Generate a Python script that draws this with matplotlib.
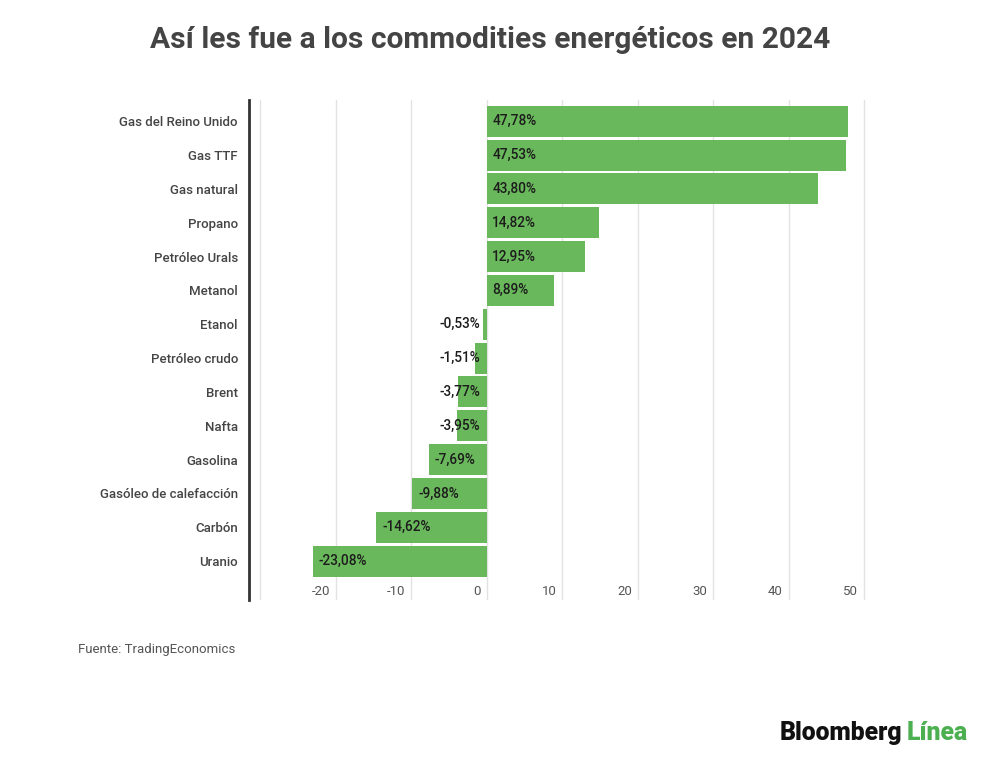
import matplotlib.pyplot as plt
from matplotlib.transforms import offset_copy, blended_transform_factory

plt.rcParams['font.family'] = ['Roboto', 'DejaVu Sans']

# data
categories = ['Gas del Reino Unido', 'Gas TTF', 'Gas natural', 'Propano',
              'Petróleo Urals', 'Metanol', 'Etanol', 'Petróleo crudo', 'Brent',
              'Nafta', 'Gasolina', 'Gasóleo de calefacción', 'Carbón', 'Uranio']
values = [47.78, 47.53, 43.80, 14.82, 12.95, 8.89, -0.53, -1.51, -3.77,
          -3.95, -7.69, -9.88, -14.62, -23.08]
grid_ticks = [-30, -20, -10, 0, 10, 20, 30, 40, 50]
label_ticks = [-20, -10, 0, 10, 20, 30, 40, 50]

bar_color = '#6ab85c'
fig = plt.figure(figsize=(10, 7.63), dpi=100)
ax = fig.add_axes([0.249, 0.2136, 0.623, 0.655])

y = list(range(len(categories)))
ax.barh(y, values, height=0.92, color=bar_color, zorder=2)

ax.set_xlim(-31.5, 51)
ax.set_ylim(len(categories) - 1 + 1.15, -0.62)

for t in grid_ticks:
    ax.axvline(t, color='#e2e2e2', lw=1, zorder=1)

# x tick labels drawn inside the plot area
trans = blended_transform_factory(ax.transData, ax.transAxes)
trans = offset_copy(trans, fig=fig, x=-6, y=0, units='dots')
for t in label_ticks:
    ax.text(t, 0.018, f'{t}', transform=trans, ha='right', va='center',
            fontsize=9.5, color='#555555')

ax.set_xticks([])
ax.set_yticks(y)
ax.set_yticklabels(categories, fontsize=9.5, color='#444444', fontweight='medium')
ax.tick_params(axis='y', length=0, pad=8)

for s in ['top', 'right', 'bottom']:
    ax.spines[s].set_visible(False)
ax.spines['left'].set_color('#333333')
ax.spines['left'].set_linewidth(2)

# value labels
for yi, v in zip(y, values):
    txt = f'{v:.2f}'.replace('.', ',') + '%'
    if v >= 0:
        ax.text(0.7, yi, txt, ha='left', va='center', fontsize=9.8,
                fontweight='medium', color='#1c1c1c', zorder=3)
    elif v > -6:
        ax.text(-0.9, yi, txt, ha='right', va='center', fontsize=9.8,
                fontweight='medium', color='#1c1c1c', zorder=3)
    else:
        ax.text(v + 0.8, yi, txt, ha='left', va='center', fontsize=9.8,
                fontweight='medium', color='#1c1c1c', zorder=3)

fig.text(0.49, 0.948, 'Así les fue a los commodities energéticos en 2024',
         ha='center', va='center', fontsize=21.5, fontweight='bold', color='#444444')
fig.text(0.078, 1 - 650 / 763, 'Fuente: TradingEconomics', ha='left', va='center',
         fontsize=9.5, color='#555555')

# logo
t1 = fig.text(0.780, 1 - 733 / 763, 'Bloomberg', ha='left', va='center',
              fontsize=17.8, fontweight='black', color='#111111')
fig.canvas.draw()
bb = t1.get_window_extent()
fig.text((bb.x1 + 4) / fig.bbox.width, 1 - 733 / 763, 'Línea', ha='left', va='center',
         fontsize=17.8, fontweight='black', color='#4caf50')

fig.savefig('out.png', dpi=100)
